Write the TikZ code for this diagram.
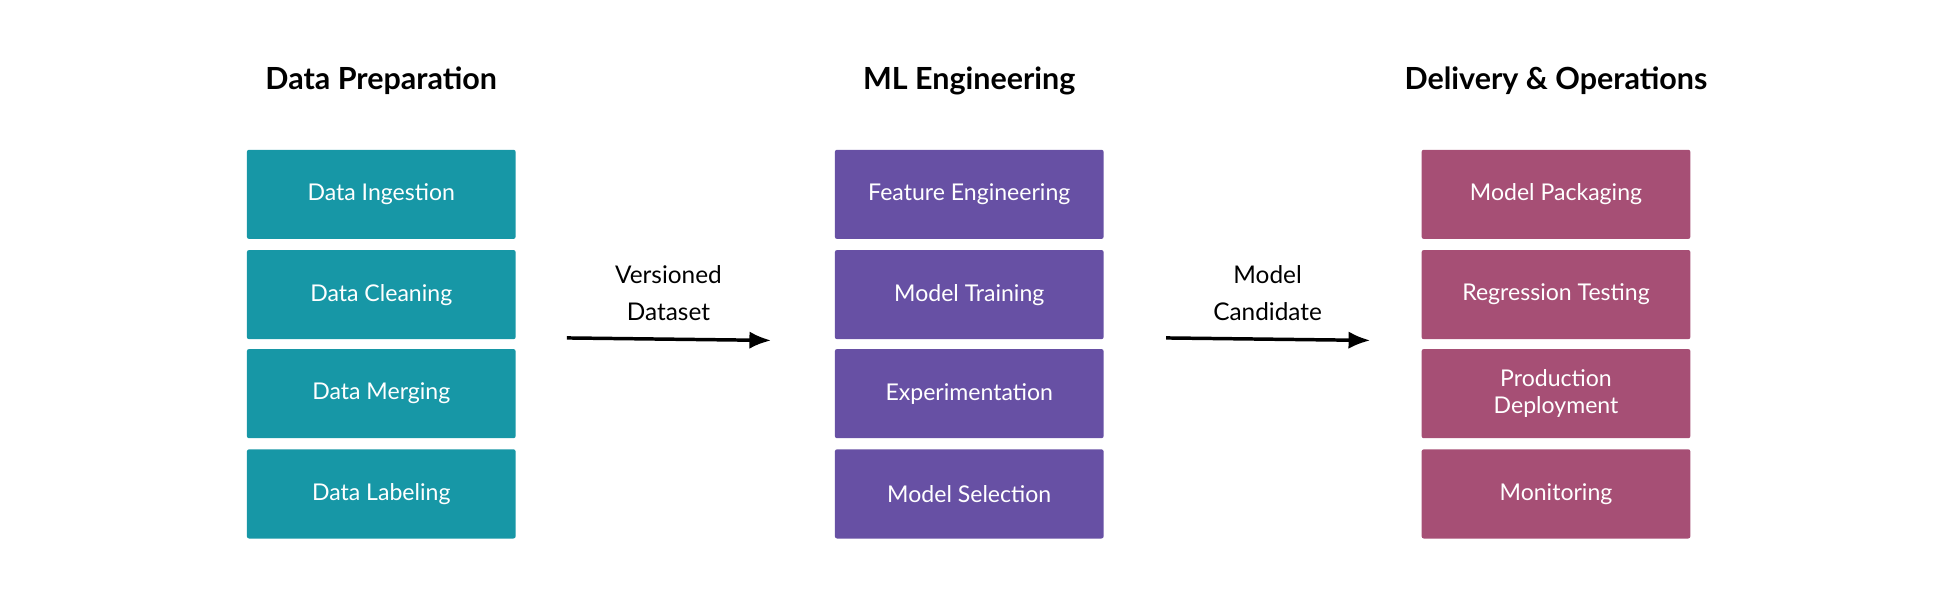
\documentclass[tikz,border=0pt]{standalone}
\usepackage{fontspec}
\setmainfont{Lato}
\usetikzlibrary{arrows.meta,positioning}
\definecolor{prepcol}{HTML}{1797A6}
\definecolor{engcol}{HTML}{6750A4}
\definecolor{opscol}{HTML}{A64F75}

\begin{document}
\begin{tikzpicture}[x=0.01cm, y=-0.01cm,
    stage/.style={minimum width=2.17cm, minimum height=0.72cm, rounded corners=0.5pt,
      text=white, font=\fontsize{5.3}{6.2}\selectfont, align=center, inner sep=0pt},
    title/.style={font=\fontsize{7}{8}\selectfont\bfseries},
    flowlbl/.style={font=\fontsize{5.6}{8.4}\selectfont, align=center}]
      \useasboundingbox (0, 0) rectangle (1568, 494);

      \node[title] (prep) at (308, 65) {Data Preparation};
      \node[title] (eng) at (783, 65) {ML Engineering};
      \node[title] (ops) at (1257, 65) {Delivery \& Operations};

      \node[stage, fill=prepcol] (ingest) at (308, 157) {Data Ingestion};
      \node[stage, fill=prepcol] (clean) at (308, 238) {Data Cleaning};
      \node[stage, fill=prepcol] (merge) at (308, 318) {Data Merging};
      \node[stage, fill=prepcol] (label) at (308, 399) {Data Labeling};

      \node[stage, fill=engcol] (feat) at (783, 157) {Feature Engineering};
      \node[stage, fill=engcol] (train) at (783, 238) {Model Training};
      \node[stage, fill=engcol] (exper) at (783, 318) {Experimentation};
      \node[stage, fill=engcol] (select) at (783, 399) {Model Selection};

      \node[stage, fill=opscol] (pack) at (1257, 157) {Model Packaging};
      \node[stage, fill=opscol] (regr) at (1257, 238) {Regression Testing};
      \node[stage, fill=opscol] (deploy) at (1257, 318) {Production\\Deployment};
      \node[stage, fill=opscol] (monit) at (1257, 399) {Monitoring};

      \coordinate (a1s) at (458, 273);
      \coordinate (a1e) at (623, 275);
      \coordinate (a2s) at (942, 273);
      \coordinate (a2e) at (1107, 275);
      \draw[-{Latex[length=5pt, width=4pt]}, thick] (a1s) -- (a1e);
      \draw[-{Latex[length=5pt, width=4pt]}, thick] (a2s) -- (a2e);

      \node[flowlbl] (vds) at (540, 237) {Versioned\\Dataset};
      \node[flowlbl] (mcand) at (1024, 237) {Model\\Candidate};
    \end{tikzpicture}
\end{document}
